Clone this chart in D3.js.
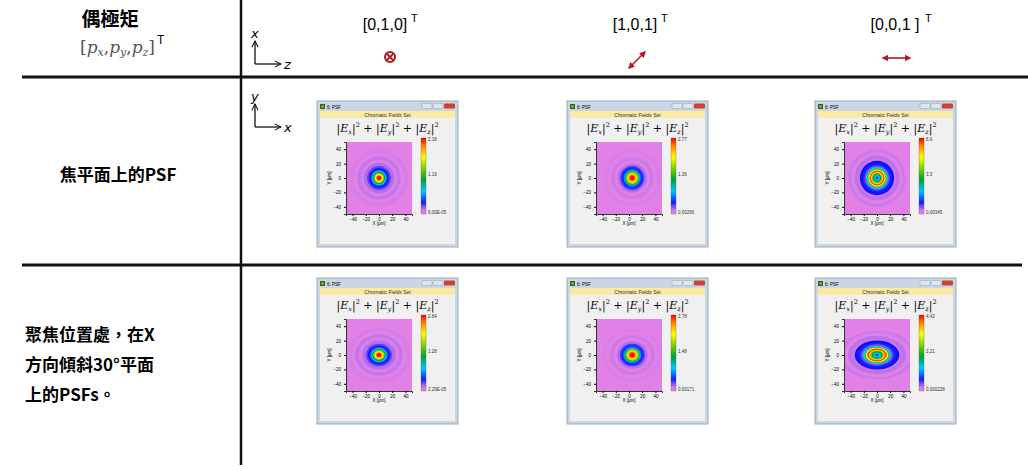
<!DOCTYPE html>
<html><head><meta charset="utf-8">
<script src="https://cdn.jsdelivr.net/npm/d3@7"></script>
<style>body{margin:0;background:#fff}svg{display:block}</style></head>
<body><svg id="c" width="1028" height="469"></svg>
<script>
const dipoles=["[0,1,0]","[1,0,1]","[0,0,1 ]"];
const rowLabels=[["焦平面上的PSF"],["聚焦位置處，在X","方向傾斜30°平面","上的PSFs。"]];
const axisTicks=[-40,-20,0,20,40];
const cbLabels=[["2.18","1.19","6.00E-05"],["2.77","1.26","0.00266"],["6.6","3.3","0.00345"],
 ["2.84","1.28","2.29E-05"],["2.78","1.48","0.00171"],["4.42","2.21","0.000228"]];
// ring profiles: [radius µm, normalized intensity], outer to inner
const profileA=[[50,0.02],[44,0.04],[38,0.02],[33,0.06],[28,0.035],[23,0.08],[18,0.11],[15,0.14],[13,0.2],[11,0.3],[9.5,0.45],[8,0.6],[6,0.75],[4.5,0.9],[3,1]];
const profileB=[[50,0.02],[44,0.035],[38,0.02],[32,0.05],[27,0.03],[22,0.08],[18,0.12],[15.5,0.16],[13.5,0.22],[12,0.35],[10.5,0.5],[9,0.65],[7,0.8],[5,0.92],[3,1]];
const profileC=[[50,0.02],[44,0.05],[39,0.03],[34,0.07],[29,0.05],[26,0.14],[22,0.16],[19,0.1],[16.5,0.3],[14.5,0.55],[13,0.75],[11.5,0.95],[9.5,0.8],[8,0.6],[6.5,0.45],[4.5,0.3],[2.5,0.2]];
const profiles=[profileA,profileB,profileC,profileA,profileB,profileC];
const centerDx=[0,5,0,0,5,0];
const stretchX=[1,1,1,1.1,1.05,1.3];
const stretchY=[1,1,1,0.95,0.95,0.85];
const panelX=[317,567,815];
const panelY=[101,278];

const svg=d3.select("#c");
const dark="#111";
svg.append("line").attr("x1",22).attr("x2",1028).attr("y1",77).attr("y2",77).attr("stroke",dark).attr("stroke-width",3);
svg.append("line").attr("x1",22).attr("x2",1022).attr("y1",265).attr("y2",265).attr("stroke",dark).attr("stroke-width",3);
svg.append("line").attr("x1",241).attr("x2",241).attr("y1",0).attr("y2",465).attr("stroke",dark).attr("stroke-width",2.5);

svg.append("text").attr("x",110).attr("y",26).attr("text-anchor","middle").attr("font-family","Noto Sans CJK TC").attr("font-weight","bold").attr("font-size",19).text("偶極矩");
const f=svg.append("text").attr("x",80).attr("y",53).attr("font-family","DejaVu Serif").attr("font-size",17).attr("fill","#555");
f.append("tspan").text("[");
[["p","x"],["p","y"],["p","z"]].forEach((d,i)=>{f.append("tspan").attr("font-style","italic").text(d[0]);f.append("tspan").attr("font-size",11).attr("font-style","italic").attr("dy",3).text(d[1]);f.append("tspan").attr("dy",-3).text(i<2?",":"]");});
svg.append("text").attr("x",157).attr("y",44).attr("font-family","Liberation Sans").attr("font-size",12).text("T");

const red="#b01828";
const defs=svg.append("defs");
defs.append("marker").attr("id","ah").attr("viewBox","0 0 10 10").attr("refX",8).attr("refY",5).attr("markerWidth",4).attr("markerHeight",4).attr("orient","auto-start-reverse").append("path").attr("d","M0,0L10,5L0,10z").attr("fill",red);
defs.append("marker").attr("id","ak").attr("viewBox","0 0 10 10").attr("refX",9).attr("refY",5).attr("markerWidth",6).attr("markerHeight",6).attr("orient","auto").append("path").attr("d","M1,1L9,5L1,9").attr("fill","none").attr("stroke",dark).attr("stroke-width",1.3);

const hx=[385,635,895];
dipoles.forEach((d,i)=>{
  svg.append("text").attr("x",hx[i]).attr("y",30).attr("text-anchor","middle").attr("font-family","Liberation Sans").attr("font-size",16).text(d);
  svg.append("text").attr("x",hx[i]+(i==2?30:26)).attr("y",22).attr("font-family","Liberation Sans").attr("font-size",11).text("T");
});
svg.append("circle").attr("cx",390).attr("cy",57).attr("r",5).attr("fill","none").attr("stroke",red).attr("stroke-width",2);
svg.append("path").attr("d","M386.5,53.5L393.5,60.5M393.5,53.5L386.5,60.5").attr("stroke",red).attr("stroke-width",1.8);
svg.append("line").attr("x1",629).attr("y1",68).attr("x2",645).attr("y2",52).attr("stroke",red).attr("stroke-width",1.6).attr("marker-start","url(#ah)").attr("marker-end","url(#ah)");
svg.append("line").attr("x1",883).attr("y1",58).attr("x2",910).attr("y2",58).attr("stroke",red).attr("stroke-width",1.6).attr("marker-start","url(#ah)").attr("marker-end","url(#ah)");

function axesIcon(y0,a,b){
  svg.append("path").attr("d",`M255,${y0+26}L255,${y0+3}`).attr("stroke",dark).attr("stroke-width",1.3).attr("marker-end","url(#ak)");
  svg.append("path").attr("d",`M255,${y0+26}L281,${y0+26}`).attr("stroke",dark).attr("stroke-width",1.3).attr("marker-end","url(#ak)");
  svg.append("text").attr("x",251).attr("y",y0).attr("font-family","DejaVu Sans").attr("font-style","italic").attr("font-size",13).text(a);
  svg.append("text").attr("x",284).attr("y",y0+31).attr("font-family","DejaVu Sans").attr("font-style","italic").attr("font-size",13).text(b);
}
axesIcon(38,"x","z");
axesIcon(101,"y","x");

svg.append("text").attr("x",118).attr("y",181).attr("text-anchor","middle").attr("font-family","Noto Sans CJK TC").attr("font-weight","bold").attr("font-size",17).text(rowLabels[0][0]);
rowLabels[1].forEach((s,i)=>svg.append("text").attr("x",25).attr("y",341+i*30).attr("font-family","Noto Sans CJK TC").attr("font-weight","bold").attr("font-size",17).text(s));

const cmap=d3.scaleLinear().domain([0,0.03,0.08,0.14,0.3,0.45,0.6,0.75,0.9,1]).range(["#e482e6","#e080e6","#b070ee","#1010ff","#00c8ff","#00a040","#7fd000","#ffff00","#ff8000","#ff0000"]).clamp(true);

let k=0;
panelY.forEach(py=>panelX.forEach(px=>{
  const g=svg.append("g").attr("transform",`translate(${px},${py})`);
  const W=141,H=146;
  g.append("rect").attr("width",W).attr("height",H).attr("fill","#c9d6e4").attr("stroke","#9aabbd");
  g.append("rect").attr("x",3).attr("y",10).attr("width",W-6).attr("height",H-13).attr("fill","#f0f0f0");
  g.append("rect").attr("x",3).attr("y",10).attr("width",W-6).attr("height",7).attr("fill","#fbe9a6");
  g.append("text").attr("x",W/2).attr("y",15.8).attr("text-anchor","middle").attr("font-family","Liberation Sans").attr("font-size",5).attr("fill","#333").text("Chromatic Fields Set");
  g.append("rect").attr("x",3).attr("y",3).attr("width",5).attr("height",5).attr("fill","#2a6a20");
  g.append("rect").attr("x",4.5).attr("y",4.5).attr("width",2).attr("height",2).attr("fill","#e8c020");
  g.append("text").attr("x",10).attr("y",8).attr("font-family","Liberation Sans").attr("font-size",4.5).text("6: PSF");
  [W-36,W-25].forEach(x=>g.append("rect").attr("x",x).attr("y",2.5).attr("width",10).attr("height",5).attr("rx",1).attr("fill","#dde6f0").attr("stroke","#8090a0").attr("stroke-width",0.4));
  g.append("rect").attr("x",W-14).attr("y",2.5).attr("width",11).attr("height",5).attr("rx",1).attr("fill","#d04030");
  const ft=g.append("text").attr("x",W/2).attr("y",31).attr("text-anchor","middle").attr("font-family","DejaVu Serif").attr("font-size",11);
  ["x","y","z"].forEach((c,i)=>{
    ft.append("tspan").attr("dy",i?5:0).text((i?" + ":"")+"|");
    ft.append("tspan").attr("font-style","italic").text("E");
    ft.append("tspan").attr("font-size",6.5).attr("font-style","italic").attr("dy",2).text(c);
    ft.append("tspan").attr("dy",-2).text("|");
    ft.append("tspan").attr("font-size",6.5).attr("dy",-5).text("2");
  });
  const x0=29,x1=95,y0=41,y1=113;
  const xs=d3.scaleLinear().domain([-50,50]).range([x0,x1]);
  const ys=d3.scaleLinear().domain([-50,50]).range([y1,y0]);
  const clipId="cl"+k;
  g.append("clipPath").attr("id",clipId).append("rect").attr("x",x0).attr("y",y0).attr("width",x1-x0).attr("height",y1-y0);
  const pg=g.append("g").attr("clip-path",`url(#${clipId})`);
  pg.append("rect").attr("x",x0).attr("y",y0).attr("width",x1-x0).attr("height",y1-y0).attr("fill",cmap(0.02));
  const cx=centerDx[k];
  if(cx){pg.append("ellipse").attr("cx",xs(-16)).attr("cy",ys(0)).attr("rx",xs(6)-xs(0)).attr("ry",xs(14)-xs(0)).attr("fill",cmap(0.05)).attr("opacity",0.8);}
  pg.selectAll("ellipse.r").data(profiles[k]).join("ellipse").attr("class","r")
    .attr("cx",xs(cx)).attr("cy",ys(0))
    .attr("rx",d=>(xs(d[0])-xs(0))*stretchX[k]).attr("ry",d=>(xs(d[0])-xs(0))*stretchY[k])
    .attr("fill",d=>cmap(d[1]));
  const ax=d3.axisBottom(xs).tickValues(axisTicks).tickSize(2);
  g.append("g").attr("transform",`translate(0,${y1})`).call(ax).call(s=>{s.selectAll("text").attr("font-size",4.5).attr("dy",2);s.select(".domain").attr("stroke","#333")});
  const ay=d3.axisLeft(ys).tickValues(axisTicks).tickSize(2);
  g.append("g").attr("transform",`translate(${x0},0)`).call(ay).call(s=>{s.selectAll("text").attr("font-size",4.5);s.select(".domain").attr("stroke","#333")});
  g.append("text").attr("x",(x0+x1)/2).attr("y",124).attr("text-anchor","middle").attr("font-family","Liberation Sans").attr("font-size",4.5).text("X [µm]");
  g.append("text").attr("transform",`translate(14,${(y0+y1)/2}) rotate(-90)`).attr("text-anchor","middle").attr("font-family","Liberation Sans").attr("font-size",4.5).text("Y [µm]");
  const gid="gr"+k;
  const lg=defs.append("linearGradient").attr("id",gid).attr("x1",0).attr("x2",0).attr("y1",1).attr("y2",0);
  d3.range(0,1.01,0.05).forEach(t=>lg.append("stop").attr("offset",t).attr("stop-color",cmap(t)));
  g.append("rect").attr("x",104).attr("y",37).attr("width",5).attr("height",76).attr("fill",`url(#${gid})`).attr("stroke","#555").attr("stroke-width",0.3);
  const lab=cbLabels[k];
  [[40,lab[0]],[75,lab[1]],[113,lab[2]]].forEach(d=>g.append("text").attr("x",111).attr("y",d[0]).attr("font-family","Liberation Sans").attr("font-size",4.5).attr("fill","#333").text(d[1]));
  k++;
}));
</script></body></html>
